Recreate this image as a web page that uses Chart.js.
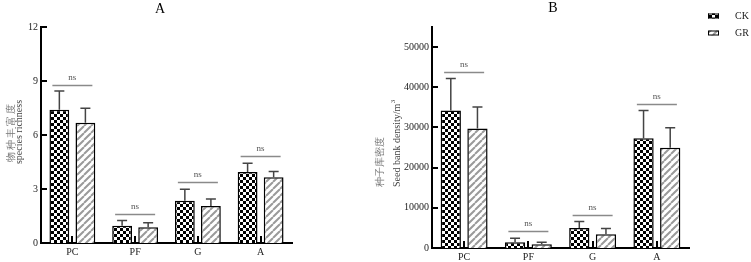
<!DOCTYPE html>
<html>
<head>
<meta charset="utf-8">
<script src="https://cdn.jsdelivr.net/npm/chart.js@4.4.1/dist/chart.umd.min.js"></script>
<style>
body { margin: 0; background: #fff; width: 751px; height: 262px; overflow: hidden; position: relative; }
canvas { position: absolute; top: 0; }
#chartA { left: 0; }
#chartB { left: 370px; }
</style>
</head>
<body>
<canvas id="chartA" width="370" height="262"></canvas>
<canvas id="chartB" width="381" height="262"></canvas>
<script>
// categories
const sites = ['PC', 'PF', 'G', 'A']

// A: species richness
const richCK = [7.4, 0.96, 2.35, 3.95]
const richCKsd = [1.05, 0.29, 0.63, 0.48]
const richGR = [6.68, 0.88, 2.05, 3.65]
const richGRsd = [0.8, 0.25, 0.4, 0.32]
const richSig = [8.8, 1.6, 3.4, 4.83]

// B: seed bank density
const seedCK = [34250, 1420, 5000, 27330]
const seedCKsd = [7920, 1000, 1580, 6920]
const seedGR = [29750, 920, 3420, 24920]
const seedGRsd = [5330, 500, 1410, 5000]
const seedSig = [43750, 4170, 8170, 35920]

const serif = '"Liberation Serif", "Times New Roman", serif'

function checker(ctx) {
    const c = document.createElement('canvas')
    c.width = c.height = 6
    const g = c.getContext('2d')
    g.fillStyle = '#fff'
    g.fillRect(0, 0, 6, 6)
    g.fillStyle = '#000'
    g.fillRect(0, 0, 3, 3)
    g.fillRect(3, 3, 3, 3)
    return ctx.createPattern(c, 'repeat')
}

function stripes(ctx) {
    const c = document.createElement('canvas')
    c.width = c.height = 7
    const g = c.getContext('2d')
    g.fillStyle = '#fff'
    g.fillRect(0, 0, 7, 7)
    g.strokeStyle = '#9a9a9a'
    g.lineWidth = 2
    g.beginPath()
    for (const o of [-7, 0, 7]) {
        g.moveTo(o, 7)
        g.lineTo(o + 7, 0)
    }
    g.stroke()
    return ctx.createPattern(c, 'repeat')
}

// error bars, "ns" marks, inward ticks, titles, legend
const deco = {
    id: 'deco',
    afterDatasetsDraw(chart, args, o) {
        const ctx = chart.ctx
        const x = chart.scales.x, y = chart.scales.y
        const area = chart.chartArea
        ctx.save()

        chart.data.datasets.forEach((ds, di) => {
            chart.getDatasetMeta(di).data.forEach((bar, i) => {
                const top = y.getPixelForValue(ds.data[i] + o.sd[di][i])
                ctx.strokeStyle = '#444'
                ctx.lineWidth = 1.5
                ctx.beginPath()
                ctx.moveTo(bar.x, bar.y)
                ctx.lineTo(bar.x, top)
                ctx.moveTo(bar.x - 5, top)
                ctx.lineTo(bar.x + 5, top)
                ctx.stroke()
            })
        })

        sites.forEach((s, i) => {
            const cx = x.getPixelForValue(i)
            const py = Math.round(y.getPixelForValue(o.sig[i])) + 0.5
            ctx.strokeStyle = '#8a8a8a'
            ctx.lineWidth = 1.5
            ctx.beginPath()
            ctx.moveTo(cx - 20, py)
            ctx.lineTo(cx + 20, py)
            ctx.stroke()
            ctx.fillStyle = '#555'
            ctx.font = '9px ' + serif
            ctx.textAlign = 'center'
            ctx.textBaseline = 'bottom'
            ctx.fillText('ns', cx, py - 3)
        })

        ctx.fillStyle = '#000'
        sites.forEach((s, i) => {
            const cx = x.getPixelForValue(i)
            ctx.fillRect(Math.round(cx) - 1, area.bottom - 7, 2, 7)
        })
        y.ticks.forEach(t => {
            const py = Math.round(y.getPixelForValue(t.value))
            ctx.fillRect(area.left, py - 1, 6, 2)
        })

        ctx.fillStyle = '#000'
        ctx.font = '14px ' + serif
        ctx.textAlign = 'center'
        ctx.textBaseline = 'middle'
        ctx.fillText(o.title.text, o.title.x, o.title.y)

        o.ytitle.forEach(t => {
            ctx.save()
            ctx.translate(t.x, t.y)
            ctx.rotate(-Math.PI / 2)
            ctx.fillStyle = t.color
            ctx.font = '10px ' + serif
            ctx.letterSpacing = (t.spacing || 0) + 'px'
            ctx.textAlign = t.align
            ctx.textBaseline = 'middle'
            ctx.fillText(t.text, 0, 0)
            if (t.sup) {
                const w = ctx.measureText(t.text).width
                const start = t.align === 'center' ? -w / 2 : 0
                ctx.font = '7px ' + serif
                ctx.textAlign = 'left'
                ctx.fillText(t.sup, start + w + 0.5, -4)
            }
            ctx.restore()
        })

        if (o.legend) {
            chart.data.datasets.forEach((ds, di) => {
                const ly = o.legend.y + di * 17
                ctx.fillStyle = ds.backgroundColor
                ctx.fillRect(o.legend.x, ly - 2.5, 11, 5)
                ctx.strokeStyle = '#000'
                ctx.lineWidth = 1
                ctx.strokeRect(o.legend.x + 0.5, ly - 2, 10, 4)
                ctx.fillStyle = '#222'
                ctx.font = '10px ' + serif
                ctx.textAlign = 'left'
                ctx.textBaseline = 'middle'
                ctx.fillText(ds.label, o.legend.x + 27, ly)
            })
        }
        ctx.restore()
    }
}

function makeChart(id, ck, gr, sdCK, sdGR, sig, yMax, step, yWidth, xHeight, padRight, extra) {
    const ctx = document.getElementById(id).getContext('2d')
    return new Chart(ctx, {
        type: 'bar',
        data: {
            labels: sites,
            datasets: [
                { label: 'CK', data: ck, backgroundColor: checker(ctx), borderColor: '#000', borderWidth: 1.5 },
                { label: 'GR', data: gr, backgroundColor: stripes(ctx), borderColor: '#000', borderWidth: 1.5 }
            ]
        },
        options: {
            responsive: false,
            animation: false,
            categoryPercentage: 0.83,
            barPercentage: 0.76,
            layout: { padding: { top: 27, right: padRight, left: 0, bottom: 0 } },
            plugins: {
                legend: { display: false },
                tooltip: { enabled: false },
                deco: Object.assign({ sd: [sdCK, sdGR], sig: sig }, extra)
            },
            scales: {
                x: {
                    grid: { display: false, drawTicks: false },
                    border: { display: true, color: '#000', width: 2 },
                    ticks: { color: '#222', font: { family: serif, size: 10 }, padding: 3 },
                    afterFit: (s) => { s.height = xHeight }
                },
                y: {
                    min: 0,
                    max: yMax,
                    grid: { display: false, drawTicks: false },
                    border: { display: true, color: '#000', width: 2 },
                    ticks: {
                        color: '#222',
                        font: { family: serif, size: 10 },
                        padding: 3,
                        callback: (v) => String(v)
                    },
                    afterBuildTicks: (s) => {
                        const t = []
                        for (let v = 0; v <= yMax; v += step) t.push({ value: v })
                        s.ticks = t
                    },
                    afterFit: (s) => { s.width = yWidth }
                }
            }
        },
        plugins: [deco]
    })
}

makeChart('chartA', richCK, richGR, richCKsd, richGRsd, richSig, 12, 3, 41, 19, 78, {
    title: { text: 'A', x: 160, y: 9 },
    ytitle: [
        { text: '物种丰富度', x: 11, y: 132, color: '#777', align: 'center', spacing: 2 },
        { text: 'species richness', x: 19.5, y: 132, color: '#444', align: 'center' }
    ]
})

makeChart('chartB', seedCK, seedGR, seedCKsd, seedGRsd, seedSig, 55000, 10000, 62, 14, 62, {
    title: { text: 'B', x: 183, y: 8 },
    ytitle: [
        { text: '种子库密度', x: 10, y: 187, color: '#777', align: 'left' },
        { text: 'Seed bank density/m', x: 27, y: 187, color: '#444', align: 'left', sup: '3' }
    ],
    legend: { x: 338, y: 16 }
})
</script>
</body>
</html>
